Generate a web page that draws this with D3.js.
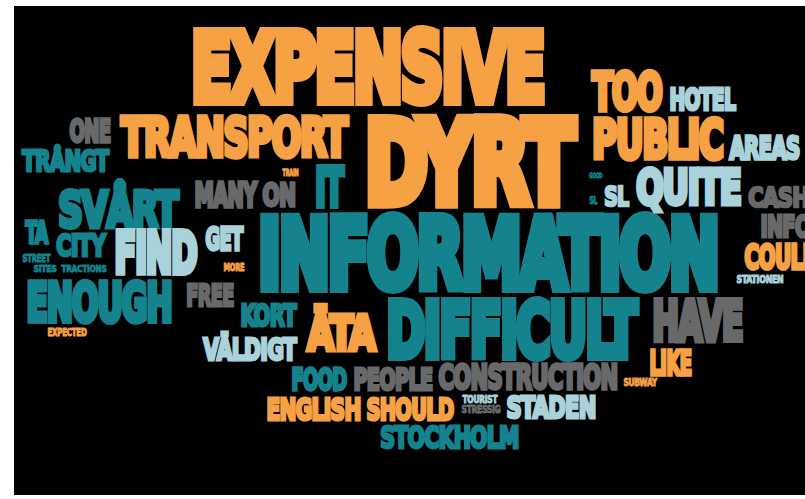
<!DOCTYPE html>
<html>
<head>
<meta charset="utf-8">
<script src="https://cdn.jsdelivr.net/npm/d3@7"></script>
<style>
  html, body { margin: 0; padding: 0; background: #fff; }
  svg { display: block; }
  text { font-family: "DejaVu Sans", sans-serif; font-weight: bold; font-stretch: condensed; }
</style>
</head>
<body>
<div id="cloud"></div>
<script>
// words of the cloud, in drawing order
const words = ["EXPENSIVE", "DYRT", "INFORMATION", "TRANSPORT", "DIFFICULT", "HAVE", "PUBLIC", "TOO",
  "HOTEL", "AREAS", "QUITE", "CASH", "INFO", "COULD", "STATIONEN", "SL", "SL", "GOOD", "IT", "TRAIN",
  "MANY", "ON", "ONE", "TRÅNGT", "SVÅRT", "TA", "CITY", "FIND", "GET", "STREET", "SITES", "TRACTIONS",
  "MORE", "ENOUGH", "FREE", "EXPECTED", "KORT", "ÄTA", "VÄLDIGT", "LIKE", "FOOD", "PEOPLE",
  "CONSTRUCTION", "SUBWAY", "ENGLISH", "SHOULD", "TOURIST", "STRESSIG", "STADEN", "STOCKHOLM"];

// colour group of each word: 0 orange, 1 teal, 2 light blue, 3 grey
const tones = [0, 0, 1, 0, 1, 3, 0, 0,
  2, 2, 2, 3, 3, 0, 2, 2, 1, 1, 1, 0,
  3, 3, 3, 1, 1, 1, 1, 2, 2, 1, 1, 1,
  0, 1, 3, 0, 1, 0, 2, 0, 1, 3,
  3, 0, 0, 0, 2, 3, 2, 1];

// word weight (drives letter height)
const weights = [78, 93, 79, 43, 62, 45, 43, 42,
  25, 26, 40, 22, 25, 28, 9, 22, 8, 6, 43, 8,
  27, 26, 26, 23, 41, 25, 24, 47, 26, 9, 7, 7,
  8, 44, 24, 8, 25, 40, 24, 27, 25, 25,
  27, 8, 25, 25, 8, 8, 25, 24];

// layout: left edge, right edge and baseline of each word
const lefts = [187, 360, 254, 119, 383, 650, 590, 590,
  668, 728, 634, 747, 759, 743, 736, 603, 589, 589, 313, 282,
  193, 261, 68, 21, 56, 24, 55, 112, 204, 22, 33, 61,
  223, 24, 185, 47, 239, 305, 202, 648, 290, 352,
  437, 623, 265, 365, 462, 461, 505, 379];
const rights = [548, 580, 722, 350, 641, 745, 725, 664,
  737, 801, 743, 810, 812, 820, 784, 630, 598, 603, 346, 299,
  259, 297, 112, 111, 181, 50, 108, 199, 245, 51, 57, 107,
  245, 174, 235, 87, 298, 378, 298, 693, 348, 434,
  619, 658, 362, 455, 498, 501, 597, 520];
const baselines = [105, 208, 292, 158, 360, 342, 160, 112,
  111, 160, 206, 208, 238, 271, 283, 207, 204, 178, 208, 176,
  208, 207, 143, 172, 229, 244, 257, 276, 251, 262, 272, 272,
  271, 323, 307, 336, 327, 352, 361, 376, 391, 391,
  390, 386, 421, 421, 403, 413, 419, 449];

const palette = ["#f6a144", "#15838d", "#a9d2da", "#68696b"];

const width = 805, height = 499;
const x = d3.scaleLinear().domain([0, 805]).range([0, width]);
const y = d3.scaleLinear().domain([0, 499]).range([0, height]);
const capHeight = d3.scaleLinear().domain([0, 100]).range([0, 100]);
const color = d3.scaleOrdinal().domain([0, 1, 2, 3]).range(palette);
const CAP = 0.729;   // cap height of DejaVu Sans, in em
const HEAVY = 0.11;  // extra outline to get the heavy poster look

const rows = words.map((w, i) => ({
  text: w, tone: tones[i], weight: weights[i],
  left: lefts[i], right: rights[i], base: baselines[i]
}));

const svg = d3.select('#cloud').append('svg')
  .attr('width', width)
  .attr('height', height);

svg.append('rect')
  .attr('x', 14).attr('y', 6)
  .attr('width', width - 14).attr('height', 489)
  .attr('fill', '#000');

const g = svg.append('g');

const labels = g.selectAll('text')
  .data(rows)
  .enter()
  .append('text')
  .text(d => d.text)
  .attr('fill', d => color(d.tone))
  .attr('stroke', d => color(d.tone))
  .attr('vector-effect', 'non-scaling-stroke')
  .attr('stroke-linejoin', 'miter')
  .attr('letter-spacing', '-0.03em')
  .each(function(d) {
    const cap = capHeight(d.weight);
    d.sw = Math.max(0.2, cap * HEAVY);
    d3.select(this)
      .attr('font-size', (cap - d.sw) / CAP)
      .attr('stroke-width', d.sw);
  });

// squeeze each word horizontally so it fills its slot
labels.each(function(d) {
  const box = this.getBBox();
  const target = x(d.right) - x(d.left) - d.sw;
  const sx = target / box.width;
  d3.select(this)
    .attr('x', -box.x)
    .attr('transform', `translate(${x(d.left) + d.sw / 2},${y(d.base) - d.sw / 2}) scale(${sx},1)`);
});
</script>
</body>
</html>
